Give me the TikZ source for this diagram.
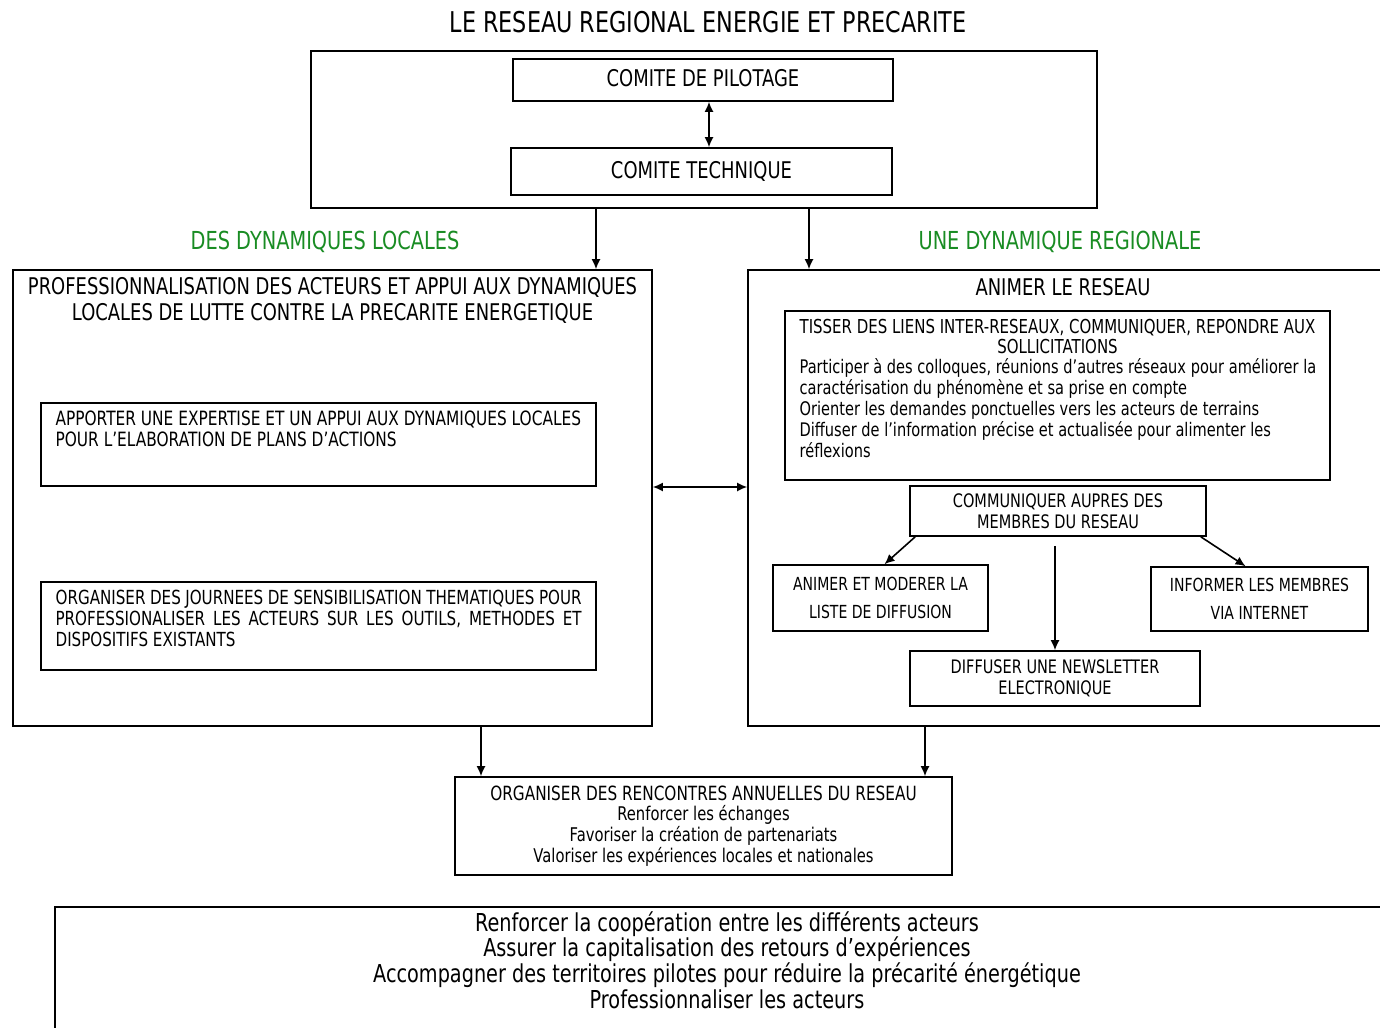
\documentclass[tikz,border=0pt]{standalone}
\usepackage{fontspec}
\setmainfont[FakeStretch=0.78]{DejaVu Sans}
\usepackage{tikz}
\usetikzlibrary{arrows.meta}
\usetikzlibrary{positioning}
\definecolor{dynvert}{RGB}{25,140,35}
\newcommand{\fsz}[2]{\fontsize{#1}{#2}\selectfont}
\newcommand{\bas}{\fsz{9.45}{10.35}}
\lineskiplimit=-20pt

\begin{document}
\begin{tikzpicture}[x=0.5pt,y=-0.5pt,>={Latex[length=5pt,width=4.5pt]},
  box/.style={draw,thick,inner sep=0pt},
  titre/.style={font=\fsz{14.3}{17},inner sep=0pt},
  vert/.style={text=dynvert,font=\fsz{12.4}{16},inner sep=0pt},
  grand/.style={font=\fsz{11.5}{13},align=center,inner sep=0pt},
  moyen/.style={font=\fsz{9.3}{10.4},align=center,inner sep=0pt},
  petit/.style={font=\fsz{9.85}{10.5},align=left,inner sep=0pt},
  corps/.style={font=\fsz{9.35}{10.5},align=left,inner sep=0pt},
  objtxt/.style={font=\fsz{12.35}{12.8},align=center,inner sep=0pt}]
  \path[use as bounding box,clip] (0,0) rectangle (1380,1027);

  \node[titre] (titre) at (708,22) {LE RESEAU REGIONAL ENERGIE ET PRECARITE};
  \node[box,minimum width=393pt,minimum height=78.5pt] (reseau) at (704,129.5) {};
  \node[box,grand,minimum width=190pt,minimum height=21pt] (pilotage) at (703,80) {\raisebox{2pt}{COMITE DE PILOTAGE}};
  \node[box,grand,minimum width=190.5pt,minimum height=23.5pt] (technique) at (701.5,171.5) {COMITE TECHNIQUE};
  \coordinate (axe) at (709,0);
  \draw[<->,thick] (pilotage.south -| axe) -- (technique.north -| axe);

  \node[vert] (loc) at (325,242) {DES DYNAMIQUES LOCALES};
  \node[vert] (reg) at (1060,242) {UNE DYNAMIQUE REGIONALE};

  \node[box,minimum width=319.5pt,minimum height=228pt] (locales) at (332.5,498) {};
  \node[box,minimum width=326pt,minimum height=228pt] (regionale) at (1074,498) {};
  \coordinate (dl) at (596,0);
  \coordinate (dr) at (809,0);
  \draw[->,thick] (reseau.south -| dl) -- (locales.north -| dl);
  \draw[->,thick] (reseau.south -| dr) -- (regionale.north -| dr);

  \node[grand,below=4pt of locales.north] (prof) {PROFESSIONNALISATION DES ACTEURS ET APPUI AUX DYNAMIQUES\\LOCALES DE LUTTE CONTRE LA PRECARITE ENERGETIQUE};
  \node[box,minimum width=277.5pt,minimum height=41.5pt] (expertise) at (318.5,444.5) {};
  \node[petit,below right=4pt and 7.5pt of expertise.north west] (expertisetxt) {APPORTER UNE EXPERTISE ET UN APPUI AUX DYNAMIQUES LOCALES\\POUR L’ELABORATION DE PLANS D’ACTIONS};
  \node[box,minimum width=277.5pt,minimum height=44pt] (journees) at (318.5,626) {};
  \node[petit,font=\fsz{9.7}{10.5},below right=4pt and 7.5pt of journees.north west] (journeestxt) {\makebox[263pt][s]{ORGANISER DES JOURNEES DE SENSIBILISATION THEMATIQUES POUR}\\\makebox[263pt][s]{PROFESSIONALISER LES ACTEURS SUR LES OUTILS, METHODES ET}\\DISPOSITIFS EXISTANTS};

  \coordinate (mi) at (700,487);
  \draw[<->,thick] (locales.east |- mi) -- (regionale.west |- mi);

  \node[grand] (animer) at (1063,287) {ANIMER LE RESEAU};
  \node[box,minimum width=272.5pt,minimum height=84.5pt] (tisser) at (1057.5,395.5) {};
  \node[petit,align=center,font=\fsz{9.6}{10},below=4.5pt of tisser.north] (tisserhead) {TISSER DES LIENS INTER-RESEAUX, COMMUNIQUER, REPONDRE AUX\\SOLLICITATIONS};
  \node[corps,below right=24pt and 7.5pt of tisser.north west] (tissertxt) {Participer à des colloques, réunions d’autres réseaux pour améliorer la\\caractérisation du phénomène et sa prise en compte\\Orienter les demandes ponctuelles vers les acteurs de terrains\\Diffuser de l’information précise et actualisée pour alimenter les\\réflexions};

  \node[box,moyen,minimum width=148pt,minimum height=25pt] (communiquer) at (1058,511) {COMMUNIQUER AUPRES DES\\MEMBRES DU RESEAU};
  \node[box,moyen,font=\fsz{9}{14},minimum width=107.5pt,minimum height=33pt] (moderer) at (880.5,598) {ANIMER ET MODERER LA\\LISTE DE DIFFUSION};
  \node[box,moyen,font=\fsz{9}{14},minimum width=108.5pt,minimum height=32pt] (informer) at (1259.5,599) {INFORMER LES MEMBRES\\VIA INTERNET};
  \node[box,moyen,minimum width=145pt,minimum height=27.5pt] (newsletter) at (1055,678.5) {DIFFUSER UNE NEWSLETTER\\ELECTRONIQUE};
  \draw[->,thick] ([xshift=3pt]communiquer.south west) -- ([xshift=2pt]moderer.north);
  \draw[->,thick] ([xshift=-3pt]communiquer.south east) -- ([xshift=-7pt]informer.north);
  \draw[->,thick] ([yshift=-4.5pt]communiquer.south -| newsletter.north) -- (newsletter.north);

  \node[box,moyen,font=\fsz{9.8}{10.35},minimum width=248.5pt,minimum height=49pt] (organiser) at (703.5,826) {ORGANISER DES RENCONTRES ANNUELLES DU RESEAU\\{\bas Renforcer les échanges}\\{\bas Favoriser la création de partenariats}\\{\bas Valoriser les expériences locales et nationales}};
  \coordinate (ga) at (481,0);
  \coordinate (dd) at (925,0);
  \draw[->,thick] (locales.south -| ga) -- (organiser.north -| ga);
  \draw[->,thick] (regionale.south -| dd) -- (organiser.north -| dd);

  \node[box,minimum width=672pt,minimum height=71.5pt] (objectifs) at (727,978.5) {};
  \node[objtxt,below=2.5pt of objectifs.north] (objectifstxt) {Renforcer la coopération entre les différents acteurs\\Assurer la capitalisation des retours d’expériences\\Accompagner des territoires pilotes pour réduire la précarité énergétique\\Professionnaliser les acteurs};
\end{tikzpicture}
\end{document}
